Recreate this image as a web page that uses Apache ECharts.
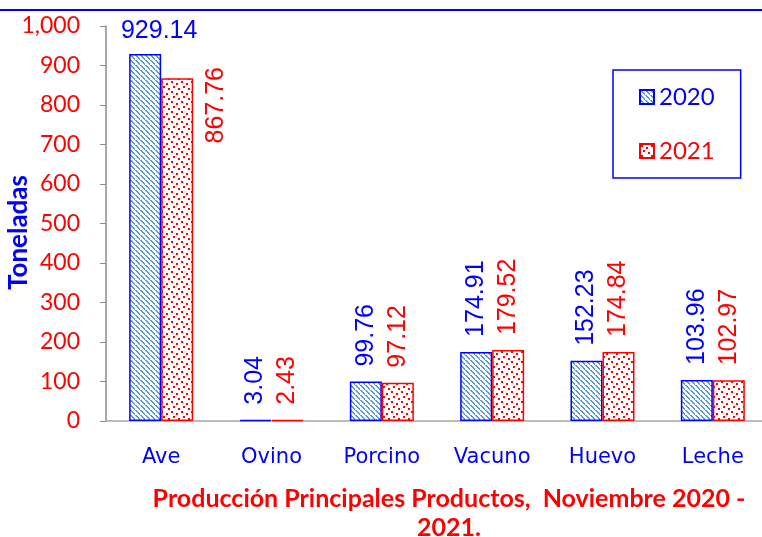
<!DOCTYPE html>
<html>
<head>
<meta charset="utf-8">
<script src="https://cdn.jsdelivr.net/npm/echarts@6/dist/echarts.min.js"></script>
<style>
  html, body { margin: 0; padding: 0; background: #fff; }
  #main { width: 762px; height: 537px; }
</style>
</head>
<body>
<div id="main"></div>
<script>
// datos
const categorias = ['Ave', 'Ovino', 'Porcino', 'Vacuno', 'Huevo', 'Leche']
const anios = ['2020', '2021']
const valores2020 = [929.14, 3.04, 99.76, 174.91, 152.23, 103.96]
const valores2021 = [867.76, 2.43, 97.12, 179.52, 174.84, 102.97]
const ejeY = { min: 0, max: 1000, interval: 100 }

// patrones de relleno (rayado azul, puntos rojos)
function patronRayado() {
  const c = document.createElement('canvas')
  c.width = 5
  c.height = 5
  const ctx = c.getContext('2d')
  ctx.fillStyle = '#fff'
  ctx.fillRect(0, 0, 5, 5)
  ctx.fillStyle = '#5b9bd5'
  for (let i = 0; i < 5; i++) {
    ctx.fillRect(i, i, 1, 1)
    if (i < 4) ctx.fillRect(i + 1, i, 1, 1)
  }
  return c
}
function patronPuntos() {
  const c = document.createElement('canvas')
  c.width = 10
  c.height = 10
  const ctx = c.getContext('2d')
  ctx.fillStyle = '#fff'
  ctx.fillRect(0, 0, 10, 10)
  ctx.fillStyle = '#ff0000'
  ;[[1, 1], [6, 3], [3, 6], [8, 8]].forEach(p => ctx.fillRect(p[0], p[1], 2, 2))
  return c
}

const etiquetaBase = {
  show: true,
  position: 'top',
  rotate: 90,
  align: 'left',
  verticalAlign: 'middle',
  distance: 15,
  fontFamily: 'Liberation Sans',
  fontSize: 25,
  formatter: p => p.value.toFixed(2)
}

const datos2020 = valores2020.map((v, i) => {
  if (i === 0) {
    return { value: v, label: { rotate: 0, align: 'center', verticalAlign: 'bottom', distance: 10, offset: [14, 0] } }
  }
  return v
})
const datos2021 = valores2021.map((v, i) => {
  if (i === 0) {
    return { value: v, label: { position: [55, 27], align: 'center', verticalAlign: 'middle' } }
  }
  return v
})

const chart = echarts.init(document.getElementById('main'))
chart.setOption({
  backgroundColor: '#fff',
  animation: false,
  title: {
    text: 'Producción Principales Productos,  Noviembre 2020 -\n2021.',
    left: 449,
    top: 484,
    padding: 0,
    textAlign: 'center',
    textStyle: {
      color: '#ff0000',
      fontFamily: 'Lato',
      fontWeight: 'bold',
      fontSize: 25,
      lineHeight: 29
    }
  },
  legend: {
    data: [
      { name: anios[0], textStyle: { color: '#0000ff' } },
      { name: anios[1], textStyle: { color: '#ff0000' } }
    ],
    orient: 'vertical',
    left: 613,
    top: 70,
    padding: [15, 26, 15, 26],
    itemGap: 30,
    itemWidth: 14,
    itemHeight: 14,
    icon: 'rect',
    borderColor: '#0000ff',
    borderWidth: 1.5,
    textStyle: { fontFamily: 'Lato', fontSize: 24 }
  },
  grid: {
    left: 106,
    right: -6,
    top: 26,
    bottom: 116,
    containLabel: false,
    outerBoundsMode: 'none'
  },
  xAxis: {
    type: 'category',
    data: categorias,
    axisLine: { lineStyle: { color: '#a6a6a6', width: 1.5 } },
    axisTick: { show: false },
    axisLabel: {
      color: '#0000ff',
      fontFamily: 'DejaVu Sans',
      fontSize: 21,
      margin: 26
    }
  },
  yAxis: {
    type: 'value',
    min: ejeY.min,
    max: ejeY.max,
    interval: ejeY.interval,
    name: 'Toneladas',
    nameLocation: 'middle',
    nameGap: 74,
    nameMoveOverlap: false,
    nameTextStyle: {
      color: '#0000ff',
      fontFamily: 'Lato',
      fontWeight: 'bold',
      fontSize: 26,
      padding: [0, 18, 0, 0]
    },
    axisLine: { show: true, lineStyle: { color: '#8c8c8c', width: 1.5 } },
    axisTick: { show: true, inside: false, length: 6, lineStyle: { color: '#8c8c8c' } },
    splitLine: { show: false },
    axisLabel: {
      color: '#ff0000',
      fontFamily: 'Lato',
      fontSize: 23,
      margin: 26,
      formatter: v => v.toLocaleString('en-US')
    }
  },
  graphic: [
    {
      type: 'line',
      shape: { x1: 0, y1: 10, x2: 762, y2: 10 },
      style: { stroke: '#0000ff', lineWidth: 2 }
    }
  ],
  series: [
    {
      name: anios[0],
      type: 'bar',
      barWidth: '29%',
      barGap: '0%',
      data: datos2020,
      itemStyle: {
        color: { image: patronRayado(), repeat: 'repeat' },
        borderColor: '#0000ff',
        borderWidth: 1.5
      },
      label: Object.assign({}, etiquetaBase, { color: '#0000ff' })
    },
    {
      name: anios[1],
      type: 'bar',
      barWidth: '29%',
      data: datos2021,
      itemStyle: {
        color: { image: patronPuntos(), repeat: 'repeat' },
        borderColor: '#ff0000',
        borderWidth: 1.5
      },
      label: Object.assign({}, etiquetaBase, { color: '#ff0000' })
    }
  ]
})
</script>
</body>
</html>
